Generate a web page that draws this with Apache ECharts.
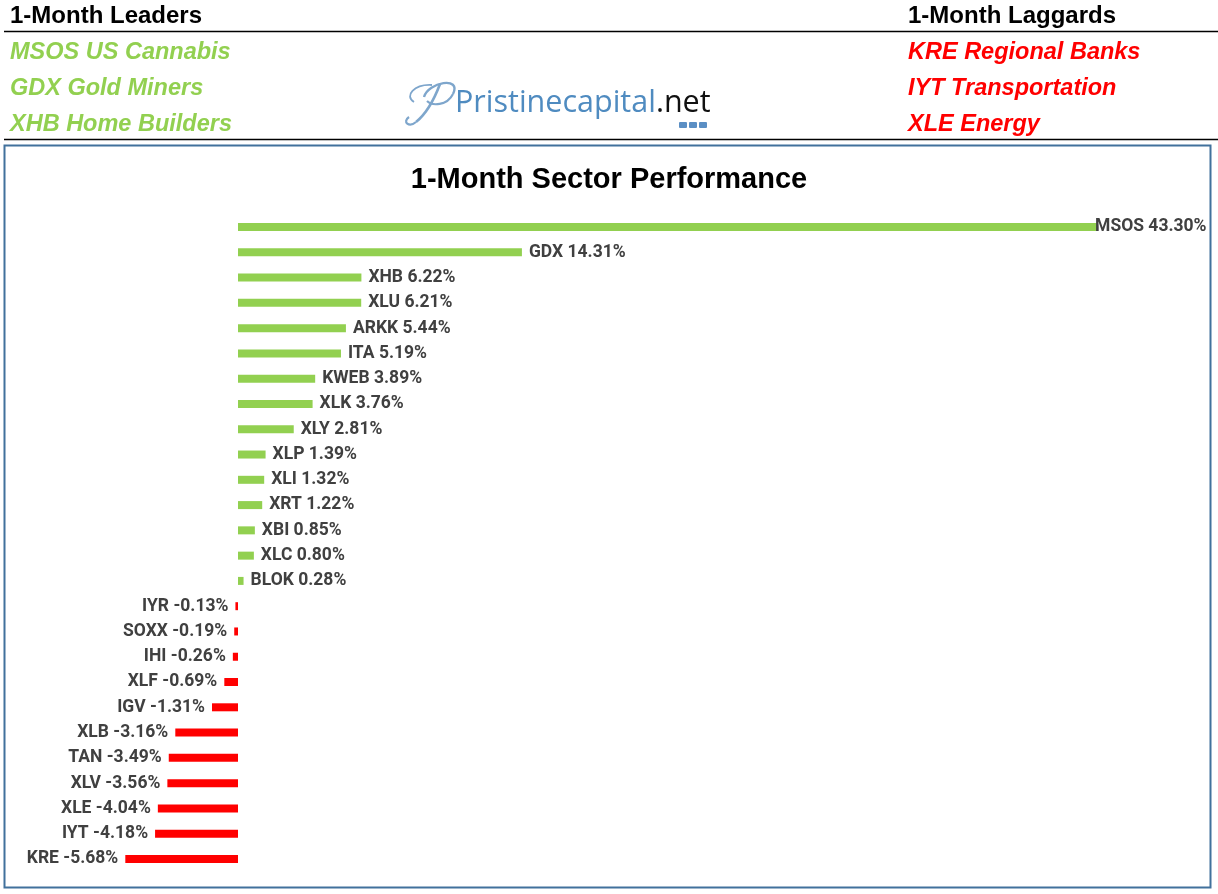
<!DOCTYPE html>
<html>
<head>
<meta charset="utf-8">
<script src="https://cdn.jsdelivr.net/npm/echarts@6/dist/echarts.min.js"></script>
<style>
html,body{margin:0;padding:0;background:#fff;}
#chart{width:1218px;height:894px;}
</style>
</head>
<body>
<div id="chart"></div>
<script>
const categories = ['MSOS','GDX','XHB','XLU','ARKK','ITA','KWEB','XLK','XLY','XLP','XLI','XRT','XBI','XLC','BLOK','IYR','SOXX','IHI','XLF','IGV','XLB','TAN','XLV','XLE','IYT','KRE'];
const values = [43.30,14.31,6.22,6.21,5.44,5.19,3.89,3.76,2.81,1.39,1.32,1.22,0.85,0.80,0.28,-0.13,-0.19,-0.26,-0.69,-1.31,-3.16,-3.49,-3.56,-4.04,-4.18,-5.68];
const leaders = ['MSOS US Cannabis','GDX Gold Miners','XHB Home Builders'];
const laggards = ['KRE Regional Banks','IYT Transportation','XLE Energy'];
const chartTitle = '1-Month Sector Performance';

const GREEN = '#92D050', RED = '#FF0000';
const LABEL_FONT = '"Roboto",sans-serif';
const HEAD_FONT = '"Liberation Sans","Roboto",sans-serif';

const chart = echarts.init(document.getElementById('chart'));

const barData = values.map((v, i) => {
  const item = {
    value: v,
    itemStyle: { color: v >= 0 ? GREEN : RED },
    label: { position: v >= 0 ? 'right' : 'left' }
  };
  if (i === 0) item.label.distance = -2;
  return item;
});

const SW = '#7ea6cc';
function curve(x1,y1,c1x,c1y,c2x,c2y,x2,y2,w){
  return { type:'bezierCurve', shape:{x1:x1,y1:y1,cpx1:c1x,cpy1:c1y,cpx2:c2x,cpy2:c2y,x2:x2,y2:y2}, style:{stroke:SW, lineWidth:w, fill:null} };
}

const graphics = [];
graphics.push({ type:'text', x:10, y:4, style:{ text:'1-Month Leaders', font:'bold 24px '+HEAD_FONT, fill:'#000' }});
graphics.push({ type:'text', x:908, y:4, style:{ text:'1-Month Laggards', font:'bold 24px '+HEAD_FONT, fill:'#000' }});
leaders.forEach((t, i) => graphics.push({ type:'text', x:10, y:41 + i*36, style:{ text:t, font:'italic bold 23.5px '+HEAD_FONT, fill:GREEN }}));
laggards.forEach((t, i) => graphics.push({ type:'text', x:908, y:41 + i*36, style:{ text:t, font:'italic bold 23.5px '+HEAD_FONT, fill:RED }}));
graphics.push({ type:'line', shape:{x1:4,y1:31.5,x2:1218,y2:31.5}, style:{stroke:'#000', lineWidth:1.5}});
graphics.push({ type:'line', shape:{x1:4,y1:139.5,x2:1218,y2:139.5}, style:{stroke:'#000', lineWidth:1.5}});
graphics.push({ type:'rect', shape:{x:4.5,y:145.5,width:1206,height:742}, style:{stroke:'#41719C', lineWidth:2, fill:null}});
// logo swash P
graphics.push(curve(424,97, 428,82, 462,76, 453,94, 2.4));
graphics.push(curve(453,94, 447,106, 432,106, 427,101, 2.2));
graphics.push(curve(440,84, 434,100, 426,114, 416,122, 2.6));
graphics.push(curve(416,122, 409,128, 402,122, 409,117, 2.2));
graphics.push(curve(414,102, 404,96, 414,84, 432,85, 1.8));
graphics.push({ type:'text', x:455, y:88, style:{ rich:{ a:{ font:'30.5px "Open Sans",sans-serif', fill:'#4f8bc0' }, b:{ font:'30.5px "Open Sans",sans-serif', fill:'#111' } }, text:'{a|Pristinecapital}{b|.net}' }});
[679, 689, 699].forEach(x => graphics.push({ type:'rect', shape:{x:x, y:122, width:8, height:6, r:1}, style:{fill:'#5b8fc4'}}));

chart.setOption({
  animation: false,
  backgroundColor: '#fff',
  title: {
    text: chartTitle,
    left: 'center',
    top: 160,
    textStyle: { fontFamily: HEAD_FONT, fontWeight: 'bold', fontSize: 29, color: '#000' }
  },
  graphic: { elements: graphics },
  grid: { left: 39.6, width: 1091.2, top: 214.4, bottom: 22.4, containLabel: false },
  xAxis: { type:'value', min:-10, max:45, show:false, splitLine:{show:false} },
  yAxis: { type:'category', data: categories, inverse:true, show:false },
  series: [{
    type:'bar',
    data: barData,
    barWidth: 8,
    label: {
      show: true,
      distance: 7,
      color: '#404040',
      fontFamily: LABEL_FONT,
      fontWeight: 'bold',
      fontSize: 17.5,
      formatter: p => p.name + ' ' + p.value.toFixed(2) + '%'
    }
  }]
});
</script>
</body>
</html>
